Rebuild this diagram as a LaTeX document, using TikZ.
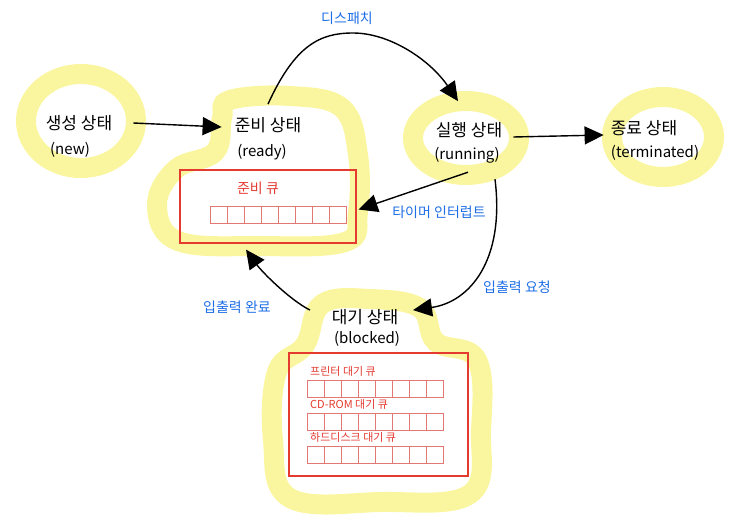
\documentclass[tikz,border=0pt]{standalone}
\usepackage{fontspec}
\setmainfont{Noto Sans CJK KR}
\usetikzlibrary{arrows.meta,calc}
\definecolor{hl}{RGB}{250,246,160}
\definecolor{qred}{RGB}{228,58,48}
\definecolor{cellred}{RGB}{226,120,115}
\definecolor{lblue}{RGB}{30,110,230}
\begin{document}
\begin{tikzpicture}[x=1pt,y=-1pt,
  st/.style={font=\fontsize{17}{20}\selectfont, inner sep=1pt},
  en/.style={font=\fontsize{15}{18}\selectfont, inner sep=1pt},
  lbl/.style={font=\fontsize{14}{16}\selectfont, text=lblue, inner sep=1pt},
  arr/.style={line width=1.4pt, -{Triangle[length=19pt,width=18pt]}},
  hlstroke/.style={draw=hl, line width=20pt},
  qbox/.style={draw=qred, line width=1.2pt, inner sep=0pt},
  qtitle/.style={font=\fontsize{14}{16}\selectfont, text=qred, inner sep=1pt},
  qlbl/.style={font=\fontsize{11}{13}\selectfont, text=qred, anchor=west, inner sep=0pt},
  cell/.style={draw=cellred, line width=0.8pt}]
\useasboundingbox (0,0) rectangle (734,527);

% yellow highlights
\draw[hlstroke] (81,121) ellipse [x radius=55pt, y radius=47pt];
\draw[hlstroke] (466,138) ellipse [x radius=53pt, y radius=37pt];
\draw[hlstroke] (663,137) ellipse [x radius=51pt, y radius=40pt];
\draw[hlstroke] plot[smooth cycle, tension=0.65] coordinates {
  (230,100) (290,96) (342,108) (358,155) (358,212) (345,242) (260,246)
  (178,241) (157,205) (176,169) (215,152) (222,118)};
\draw[hlstroke] plot[smooth cycle, tension=0.65] coordinates {
  (322,304) (370,299) (420,308) (436,342) (477,360) (481,430) (470,494)
  (380,502) (290,498) (273,440) (277,372) (305,345)};

% state labels
\node[st] (newT) at (79,123) {생성 상태};
\node[en] (newE) at (70,150) {(new)};
\node[st] (readyT) at (268,125) {준비 상태};
\node[en] (readyE) at (262,152) {(ready)};
\node[st] (runT) at (469,130) {실행 상태};
\node[en] (runE) at (467,155) {(running)};
\node[st] (termT) at (644,128) {종료 상태};
\node[en] (termE) at (655,153) {(terminated)};
\node[st] (blkT) at (365,317) {대기 상태};
\node[en] (blkE) at (367,339) {(blocked)};

% ready queue
\node[qbox, minimum width=176pt, minimum height=73pt] (rq) at (268,206.5) {};
\node[qtitle] (rqT) at (258,188) {준비 큐};
\foreach \i in {0,...,7} \draw[cell] (210+17*\i,206) rectangle ++(17,17);

% blocked queues
\node[qbox, minimum width=179pt, minimum height=123pt] (bq) at (378.5,414.5) {};
\node[qlbl] (q1) at (310,371) {프린터 대기 큐};
\node[qlbl] (q2) at (310,404) {CD-ROM 대기 큐};
\node[qlbl] (q3) at (310,437) {하드디스크 대기 큐};
\foreach \r in {380,413,446}
  \foreach \i in {0,...,7} \draw[cell] (307+17*\i,\r) rectangle ++(17,17);

% transitions
\draw[arr] ([xshift=20pt]newT.east) -- ([xshift=-12pt,yshift=-2pt]readyT.west);
\draw[arr] ([yshift=12pt]readyT.north) .. controls (295,45) and (320,33) .. (353,33)
  .. controls (390,33) and (430,60) .. ([xshift=-11pt,yshift=20pt]runT.north);
\node[lbl] (dispatch) at (347,18) {디스패치};
\draw[arr] ([xshift=10pt,yshift=-7pt]runT.east) -- ([xshift=-6pt,yshift=-7pt]termT.west);
\draw[arr] ([xshift=1pt,yshift=-8pt]runE.south) -- ([xshift=2pt,yshift=-3pt]rq.east);
\node[lbl] (timer) at (439,212) {타이머 인터럽트};
\draw[arr] ([xshift=28pt,yshift=-15pt]runE.south) .. controls (505,260) and (470,302) .. ([xshift=48pt,yshift=-2pt]blkT.north);
\node[lbl] (ioreq) at (517,287) {입출력 요청};
\draw[arr] ([xshift=-55pt,yshift=-2pt]blkT.north) .. controls (290,300) and (262,272) .. ([xshift=-22pt,yshift=-6pt]rq.south);
\node[lbl] (iodone) at (237,307) {입출력 완료};
\end{tikzpicture}
\end{document}
